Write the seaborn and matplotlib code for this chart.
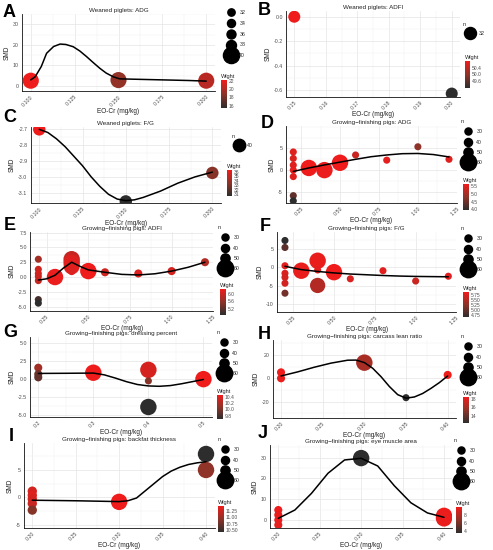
import numpy as np
import pandas as pd
import matplotlib
matplotlib.use("Agg")
import matplotlib.pyplot as plt
import seaborn as sns
from matplotlib.colors import LinearSegmentedColormap, Normalize
from matplotlib.lines import Line2D
from matplotlib.ticker import AutoMinorLocator

# ---------------- data ----------------
# A  weaned piglets: ADG
a_x = [0.10, 0.15, 0.20]
a_smd = [2.6, 2.9, 2.6]
a_n = [40, 40, 40]
a_w = [22.2, 19.0, 20.3]
a_wlim = (15.4, 22.24)
a_fit_x = [0.100, 0.1025, 0.106, 0.109, 0.113, 0.1167, 0.120, 0.1242, 0.128, 0.1318, 0.1356,
           0.1394, 0.143, 0.147, 0.1507, 0.160, 0.175, 0.190, 0.200]
a_fit_y = [3.0, 4.5, 9.5, 15.9, 19.2, 20.4, 20.2, 19.1, 17.0, 14.3, 11.4, 8.6, 6.3, 4.5,
           3.5, 3.3, 3.0, 2.7, 2.4]

# B  weaned piglets: ADFI
b_x = [0.15, 0.20]
b_smd = [0.0, -0.63]
b_n = [32, 32]
b_w = [50.78, 49.22]
b_wlim = (49.22, 50.78)

# C  weaned piglets: F/G
c_x = [0.10, 0.15, 0.20]
c_smd = [-2.70, -3.155, -2.975]
c_n = [40, 40, 40]
c_w = [36.4, 30.6, 33.3]
c_wlim = (30.6, 36.4)
c_fit_x = [0.100, 0.105, 0.110, 0.115, 0.120, 0.125, 0.130, 0.135, 0.140, 0.145, 0.150,
           0.155, 0.160, 0.170, 0.180, 0.190, 0.200]
c_fit_y = [-2.70, -2.72, -2.76, -2.81, -2.87, -2.93, -3.00, -3.06, -3.11, -3.14, -3.15,
           -3.145, -3.13, -3.09, -3.04, -3.00, -2.97]

# D  growing-finishing pigs: ADG
d_x = [0.2, 0.2, 0.2, 0.2, 0.2, 0.2, 0.2, 0.3, 0.4, 0.5, 0.6, 0.8, 1.0, 1.2]
d_smd = [4.2, 2.7, 1.15, 0.0, -1.5, -5.9, -7.1, 0.5, 0.0, 1.7, 3.5, 2.3, 5.4, 2.5]
d_n = [30, 30, 30, 30, 30, 30, 30, 60, 60, 60, 30, 30, 30, 30]
d_w = [5.5, 5.45, 5.5, 5.55, 5.5, 4.4, 3.95, 5.64, 5.6, 5.64, 5.3, 5.55, 4.8, 5.5]
d_wlim = (3.95, 5.64)
d_fit_x = [0.2, 0.3, 0.4, 0.5, 0.6, 0.7, 0.8, 0.9, 1.0, 1.1, 1.2]
d_fit_y = [-0.3, 0.5, 1.2, 1.85, 2.5, 3.1, 3.5, 3.8, 3.85, 3.6, 3.05]

# E  growing-finishing pigs: ADFI
e_x = [0.2, 0.2, 0.2, 0.2, 0.2, 0.2, 0.2, 0.3, 0.4, 0.4, 0.4, 0.4, 0.5, 0.6, 0.8, 1.0, 1.2]
e_smd = [3.0, 1.3, 0.6, 0.1, -0.6, -3.8, -4.4, 0.0, 3.0, 2.4, 1.8, 1.0, 1.0, 0.8, 0.6, 1.0, 2.5]
e_n = [30, 30, 30, 30, 30, 30, 30, 60, 60, 60, 58, 40, 60, 40, 40, 40, 40]
e_w = [5.7, 6.0, 6.05, 6.0, 5.95, 5.05, 4.89, 6.2, 5.95, 6.1, 6.15, 6.1, 6.24, 6.0, 6.1, 6.05, 5.8]
e_wlim = (4.89, 6.24)
e_fit_x = [0.2, 0.25, 0.3, 0.35, 0.4, 0.45, 0.5, 0.6, 0.7, 0.8, 0.9, 1.0, 1.1, 1.2]
e_fit_y = [-0.5, -0.3, 0.3, 1.5, 2.5, 1.8, 1.2, 0.8, 0.45, 0.35, 0.55, 1.0, 1.65, 2.5]

# F  growing-finishing pigs: F/G
f_x = [0.2, 0.2, 0.2, 0.2, 0.2, 0.2, 0.2, 0.3, 0.4, 0.4, 0.4, 0.5, 0.6, 0.8, 1.0, 1.2]
f_smd = [7.3, 5.4, 0.45, -1.6, -2.7, -4.3, -7.0, -0.9, 1.8, -0.7, -4.9, -1.3, -3.1, -0.9, -3.7, -2.4]
f_n = [30, 30, 30, 30, 30, 30, 30, 60, 60, 30, 55, 60, 30, 30, 30, 30]
f_w = [4.65, 4.95, 5.8, 5.75, 5.7, 5.7, 5.1, 5.85, 5.85, 5.8, 5.5, 5.89, 5.75, 5.8, 5.65, 5.8]
f_wlim = (4.65, 5.89)
f_fit_x = [0.2, 0.3, 0.4, 0.5, 0.6, 0.7, 0.8, 0.9, 1.0, 1.1, 1.2]
f_fit_y = [0.3, -0.6, -1.1, -1.5, -1.8, -2.0, -2.2, -2.35, -2.45, -2.5, -2.55]

# G  growing-finishing pigs: dressing percent
g_x = [0.2, 0.2, 0.2, 0.3, 0.4, 0.4, 0.4, 0.5]
g_smd = [1.6, 0.7, 0.25, 0.9, 1.3, -0.25, -3.9, 0.0]
g_n = [40, 40, 40, 60, 60, 30, 60, 60]
g_w = [10.15, 9.95, 9.9, 10.45, 10.35, 10.05, 9.7, 10.45]
g_wlim = (9.7, 10.45)
g_fit_x = [0.20, 0.25, 0.30, 0.32, 0.34, 0.36, 0.38, 0.40, 0.42, 0.44, 0.46, 0.48, 0.50]
g_fit_y = [0.8, 0.82, 0.85, 0.6, 0.15, -0.35, -0.75, -0.95, -1.0, -0.9, -0.65, -0.35, -0.05]

# H  growing-finishing pigs: carcass lean ratio
h_x = [0.20, 0.20, 0.30, 0.35, 0.40]
h_smd = [5.1, 0.0, 13.4, -16.6, 2.9]
h_n = [40, 40, 60, 30, 40]
h_w = [18.5, 18.3, 16.2, 12.3, 18.4]
h_wlim = (12.3, 18.5)
h_fit_x = [0.20, 0.22, 0.24, 0.26, 0.28, 0.29, 0.30, 0.31, 0.32, 0.33, 0.34, 0.35, 0.36,
           0.37, 0.38, 0.39, 0.40]
h_fit_y = [2.0, 5.5, 9.5, 13.0, 15.5, 15.6, 13.5, 8.6, 1.4, -7.0, -14.0, -17.0, -16.0,
           -13.0, -8.6, -3.7, 2.0]

# I  growing-finishing pigs: backfat thickness
i_x = [0.2, 0.2, 0.2, 0.2, 0.2, 0.3, 0.4, 0.4]
i_smd = [1.15, 0.4, -0.3, -1.1, -2.3, -0.8, 7.9, 5.0]
i_n = [35, 35, 35, 35, 35, 60, 60, 60]
i_w = [11.3, 11.35, 11.3, 11.25, 10.9, 11.45, 10.43, 10.95]
i_wlim = (10.43, 11.45)
i_fit_x = [0.20, 0.25, 0.30, 0.31, 0.32, 0.33, 0.34, 0.35, 0.36, 0.37, 0.38, 0.39, 0.40]
i_fit_y = [-0.5, -0.6, -0.75, -0.6, -0.1, 1.2, 2.5, 3.8, 4.8, 5.5, 6.0, 6.3, 6.5]

# J  growing-finishing pigs: eye muscle area
j_x = [0.2, 0.2, 0.2, 0.2, 0.3, 0.4, 0.4]
j_smd = [4.8, 2.4, 0.0, -2.4, 29.8, 2.0, 0.8]
j_n = [40, 40, 40, 40, 60, 60, 60]
j_w = [9.8, 9.6, 9.7, 9.5, 3.6, 9.85, 9.7]
j_wlim = (3.6, 9.85)
j_fit_x = [0.20, 0.22, 0.24, 0.26, 0.28, 0.30, 0.32, 0.34, 0.36, 0.38, 0.40]
j_fit_y = [0.8, 4.8, 12.8, 22.5, 28.9, 29.7, 26.0, 16.5, 8.3, 3.4, 1.3]

titles = {
    "A": "Weaned piglets: ADG",
    "B": "Weaned piglets: ADFI",
    "C": "Weaned piglets: F/G",
    "D": "Growing\u2212finishing pigs: ADG",
    "E": "Growing\u2212finishing pigs: ADFI",
    "F": "Growing\u2212finishing pigs: F/G",
    "G": "Growing\u2212finishing pigs: dressing percent",
    "H": "Growing\u2212finishing pigs: carcass lean ratio",
    "I": "Growing\u2212finishing pigs: backfat thickness",
    "J": "Growing\u2212finishing pigs: eye muscle area",
}

# tick values / labels
x_ticks_wp = [0.100, 0.125, 0.150, 0.175, 0.200]
x_labels_wp = ["0.100", "0.125", "0.150", "0.175", "0.200"]
x_ticks_b = [0.15, 0.16, 0.17, 0.18, 0.19, 0.20]
x_labels_b = ["0.15", "0.16", "0.17", "0.18", "0.19", "0.20"]
x_ticks_gf = [0.25, 0.50, 0.75, 1.00, 1.25]
x_labels_gf = ["0.25", "0.50", "0.75", "1.00", "1.25"]
x_ticks_g = [0.2, 0.3, 0.4, 0.5]
x_labels_g = ["0.2", "0.3", "0.4", "0.5"]
x_ticks_c = [0.20, 0.25, 0.30, 0.35, 0.40]
x_labels_c = ["0.20", "0.25", "0.30", "0.35", "0.40"]

y_ticks = {
    "A": ([0, 10, 20, 30], ["0", "10", "20", "30"]),
    "B": ([-0.6, -0.4, -0.2, 0.0], ["-0.6", "-0.4", "-0.2", "0.0"]),
    "C": ([-3.1, -3.0, -2.9, -2.8, -2.7], ["-3.1", "-3.0", "-2.9", "-2.8", "-2.7"]),
    "D": ([-5, 0, 5], ["-5", "0", "5"]),
    "E": ([-5.0, -2.5, 0.0, 2.5, 5.0, 7.5], ["-5.0", "-2.5", "0.0", "2.5", "5.0", "7.5"]),
    "F": ([-10, -5, 0, 5], ["-10", "-5", "0", "5"]),
    "G": ([-5.0, -2.5, 0.0, 2.5, 5.0], ["-5.0", "-2.5", "0.0", "2.5", "5.0"]),
    "H": ([-20, 0, 20], ["-20", "0", "20"]),
    "I": ([-5, 0, 5], ["-5", "0", "5"]),
    "J": ([0, 10, 20, 30], ["0", "10", "20", "30"]),
}

w_ticks = {
    "A": ([16, 18, 20, 22], ["16", "18", "20", "22"]),
    "B": ([49.6, 50.0, 50.4], ["49.6", "50.0", "50.4"]),
    "C": ([31, 32, 33, 34, 35, 36], ["31", "32", "33", "34", "35", "36"]),
    "D": ([4.0, 4.5, 5.0, 5.5], ["4.0", "4.5", "5.0", "5.5"]),
    "E": ([5.2, 5.6, 6.0], ["5.2", "5.6", "6.0"]),
    "F": ([4.75, 5.00, 5.25, 5.50, 5.75], ["4.75", "5.00", "5.25", "5.50", "5.75"]),
    "G": ([9.8, 10.0, 10.2, 10.4], ["9.8", "10.0", "10.2", "10.4"]),
    "H": ([14, 16, 18], ["14", "16", "18"]),
    "I": ([10.50, 10.75, 11.00, 11.25], ["10.50", "10.75", "11.00", "11.25"]),
    "J": ([4, 6, 8], ["4", "6", "8"]),
}

n_levels_a = [32, 34, 36, 38, 40]
n_levels_b = [32]
n_levels_c = [40]
n_levels_gf = [30, 40, 50, 60]

# ---------------- layout (pixels in a 493 x 550 canvas) ----------------
W, H = 493, 550
areas_a = {32: 28, 34: 34, 36: 42, 38: 52, 40: 135}
areas_b = {32: 75}
areas_c = {40: 80}
areas_gf = {30: 26, 40: 34, 50: 44, 60: 140}

panels = [
    dict(key="A", x=a_x, smd=a_smd, n=a_n, w=a_w, wlim=a_wlim, fx=a_fit_x, fy=a_fit_y,
         xt=x_ticks_wp, xl=x_labels_wp, lev=n_levels_a, areas=areas_a,
         rect=(22, 14, 215, 91), xlim=(0.095, 0.205), ylim=(-2.4, 35.0),
         cbar=(221, 80, 227, 108), leg=(224, 10), ntitle=None, lsp=1.1, letter=(3, 4)),
    dict(key="B", x=b_x, smd=b_smd, n=b_n, w=b_w, wlim=b_wlim, fx=None, fy=None,
         xt=x_ticks_b, xl=x_labels_b, lev=n_levels_b, areas=areas_b,
         rect=(286.4, 11, 459.6, 97), xlim=(0.1475, 0.2025), ylim=(-0.658, 0.047),
         cbar=(465, 61, 470, 88), leg=(463, 22), ntitle="n", lsp=0.8, letter=(258, 2)),
    dict(key="C", x=c_x, smd=c_smd, n=c_n, w=c_w, wlim=c_wlim, fx=c_fit_x, fy=c_fit_y,
         xt=x_ticks_wp, xl=x_labels_wp, lev=n_levels_c, areas=areas_c,
         rect=(30.6, 127, 221, 203), xlim=(0.095, 0.205), ylim=(-3.165, -2.685),
         cbar=(227, 170, 232, 196), leg=(232, 134), ntitle="n", lsp=0.8, letter=(3, 109)),
    dict(key="D", x=d_x, smd=d_smd, n=d_n, w=d_w, wlim=d_wlim, fx=d_fit_x, fy=d_fit_y,
         xt=x_ticks_gf, xl=x_labels_gf, lev=n_levels_gf, areas=areas_gf,
         rect=(285.5, 126, 456.8, 203), xlim=(0.15, 1.25), ylim=(-7.6, 10.2),
         cbar=(463, 184, 469, 210), leg=(461, 119), ntitle="n", lsp=1.0, letter=(261, 115)),
    dict(key="E", x=e_x, smd=e_smd, n=e_n, w=e_w, wlim=e_wlim, fx=e_fit_x, fy=e_fit_y,
         xt=x_ticks_gf, xl=x_labels_gf, lev=n_levels_gf, areas=areas_gf,
         rect=(30, 231.5, 213.3, 311), xlim=(0.15, 1.25), ylim=(-5.72, 7.67),
         cbar=(220, 289, 226, 315), leg=(218, 225), ntitle="n", lsp=1.0, letter=(4, 217)),
    dict(key="F", x=f_x, smd=f_smd, n=f_n, w=f_w, wlim=f_wlim, fx=f_fit_x, fy=f_fit_y,
         xt=x_ticks_gf, xl=x_labels_gf, lev=n_levels_gf, areas=areas_gf,
         rect=(276.8, 232, 456.5, 312), xlim=(0.15, 1.25), ylim=(-12.1, 9.6),
         cbar=(463, 292, 469, 317), leg=(461, 226), ntitle="n", lsp=1.0, letter=(260, 218)),
    dict(key="G", x=g_x, smd=g_smd, n=g_n, w=g_w, wlim=g_wlim, fx=g_fit_x, fy=g_fit_y,
         xt=x_ticks_g, xl=x_labels_g, lev=n_levels_gf, areas=areas_gf,
         rect=(30, 337, 211.7, 417), xlim=(0.185, 0.515), ylim=(-5.3, 5.9),
         cbar=(217, 395, 223, 419), leg=(217, 330), ntitle="n", lsp=1.0, letter=(3, 324)),
    dict(key="H", x=h_x, smd=h_smd, n=h_n, w=h_w, wlim=h_wlim, fx=h_fit_x, fy=h_fit_y,
         xt=x_ticks_c, xl=x_labels_c, lev=n_levels_gf, areas=areas_gf,
         rect=(272.7, 340, 456, 418), xlim=(0.19, 0.41), ylim=(-34.0, 32.8),
         cbar=(463, 397, 469, 423), leg=(461, 334), ntitle="n", lsp=1.0, letter=(258, 326)),
    dict(key="I", x=i_x, smd=i_smd, n=i_n, w=i_w, wlim=i_wlim, fx=i_fit_x, fy=i_fit_y,
         xt=x_ticks_c, xl=x_labels_c, lev=n_levels_gf, areas=areas_gf,
         rect=(23.6, 443, 214.7, 528), xlim=(0.19, 0.41), ylim=(-5.55, 9.9),
         cbar=(218, 506, 224, 532), leg=(218, 437), ntitle="n", lsp=1.0, letter=(9, 428)),
    dict(key="J", x=j_x, smd=j_smd, n=j_n, w=j_w, wlim=j_wlim, fx=j_fit_x, fy=j_fit_y,
         xt=x_ticks_c, xl=x_labels_c, lev=n_levels_gf, areas=areas_gf,
         rect=(270, 445, 452.3, 528), xlim=(0.19, 0.41), ylim=(-3.85, 36.1),
         cbar=(456, 507, 462, 533), leg=(454, 438), ntitle="n", lsp=1.0, letter=(258, 425)),
]


def px_rect(l, t, r, b):
    return [l / W, 1 - b / H, (r - l) / W, (b - t) / H]


sns.set_style("whitegrid")
plt.rcParams["font.family"] = ["Liberation Sans", "DejaVu Sans"]
plt.rcParams["axes.unicode_minus"] = False

cmap = LinearSegmentedColormap.from_list("wight", ["#2d2d2d", "#8e3328", "#f01c1c"])

fig = plt.figure(figsize=(W / 100, H / 100), dpi=100)

for p in panels:
    ax = fig.add_axes(px_rect(*p["rect"]))
    df = pd.DataFrame({"x": p["x"], "smd": p["smd"], "n": p["n"], "w": p["w"]})
    lev = p["lev"]
    sns.scatterplot(data=df, x="x", y="smd", hue="w", size="n", palette=cmap,
                    hue_norm=p["wlim"], sizes=p["areas"],
                    size_norm=(min(lev), max(lev)) if len(lev) > 1 else None,
                    linewidth=0, alpha=1, legend=False, ax=ax, zorder=3)
    if p["fx"] is not None:
        sns.lineplot(x=p["fx"], y=p["fy"], color="black", linewidth=1.1, ax=ax, zorder=4)

    ax.set_xlim(*p["xlim"])
    ax.set_ylim(*p["ylim"])
    ax.set_xticks(p["xt"])
    ax.set_xticklabels(p["xl"], rotation=45, ha="right", rotation_mode="anchor")
    yt, yl = y_ticks[p["key"]]
    ax.set_yticks(yt)
    ax.set_yticklabels(yl)
    ax.xaxis.set_minor_locator(AutoMinorLocator(2))
    ax.yaxis.set_minor_locator(AutoMinorLocator(2))
    ax.grid(which="major", color="#e4e4e4", linewidth=0.5)
    ax.grid(which="minor", color="#f1f1f1", linewidth=0.35)
    ax.set_axisbelow(True)
    for s in ["top", "right"]:
        ax.spines[s].set_visible(False)
    for s in ["left", "bottom"]:
        ax.spines[s].set_color("#111111")
        ax.spines[s].set_linewidth(0.6)
    ax.tick_params(which="major", length=1.5, width=0.4, color="#333333",
                   labelsize=3.8, labelcolor="#4d4d4d", pad=0.8)
    ax.tick_params(which="minor", length=0)
    ax.set_xlabel("EO-Cr (mg/kg)", fontsize=4.7, labelpad=0.2, color="#222222")
    ax.set_ylabel("SMD", fontsize=4.7, labelpad=1.5, color="#222222")
    ax.set_title(titles[p["key"]], fontsize=4.5, pad=1.4, color="#222222")

    # colour bar for the weight
    cax = fig.add_axes(px_rect(*p["cbar"]))
    sm = plt.cm.ScalarMappable(norm=Normalize(*p["wlim"]), cmap=cmap)
    cb = fig.colorbar(sm, cax=cax)
    wt, wl = w_ticks[p["key"]]
    cb.set_ticks(wt)
    cb.set_ticklabels(wl)
    cb.outline.set_visible(False)
    cax.tick_params(length=1.2, width=0.4, color="white", direction="in",
                    labelsize=3.6, labelcolor="#4d4d4d", pad=1.5)
    cax.set_title("Wight", loc="left", fontsize=4.1, pad=1.5, color="#222222")

    # size legend for n
    handles = [Line2D([], [], ls="", marker="o", ms=np.sqrt(p["areas"][v]),
                      mfc="black", mec="black", label=str(v)) for v in lev]
    fig.legend(handles=handles, title=p["ntitle"], loc="upper left",
               bbox_to_anchor=(p["leg"][0] / W, 1 - p["leg"][1] / H),
               frameon=False, fontsize=3.8, title_fontsize=4.1, labelspacing=p["lsp"],
               handletextpad=0.3, handlelength=2.6, borderpad=0, borderaxespad=0,
               alignment="left")

    lx, ly = p["letter"]
    fig.text(lx / W, 1 - ly / H, p["key"], fontsize=13, fontweight="bold",
             va="top", ha="left", color="black")

fig.savefig("out.png", dpi=100)
